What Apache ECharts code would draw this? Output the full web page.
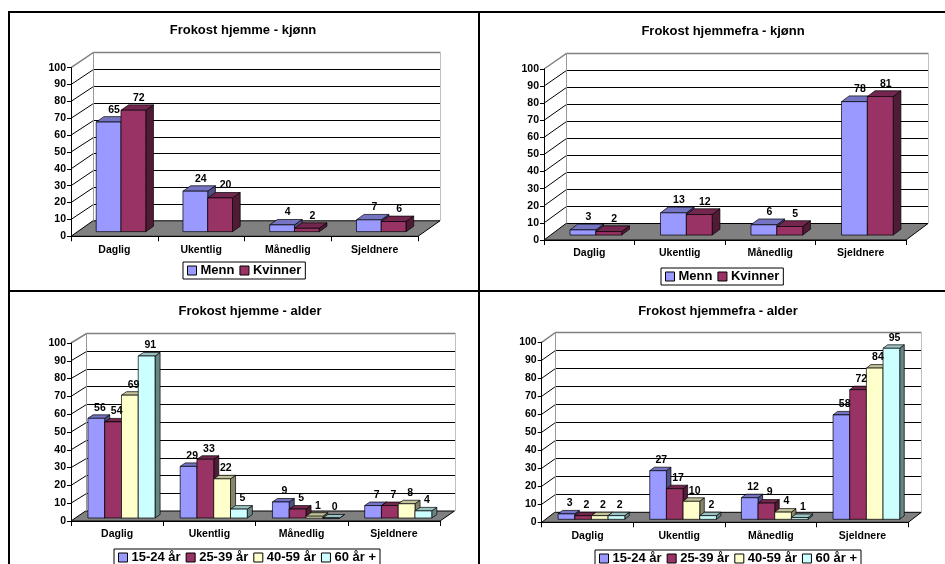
<!DOCTYPE html>
<html>
<head>
<meta charset="utf-8">
<script src="https://cdn.jsdelivr.net/npm/echarts@6/dist/echarts.min.js"></script>
<style>
  html, body { margin: 0; padding: 0; background: #fff; }
  #chart { width: 945px; height: 564px; }
</style>
</head>
<body>
<div id="chart"></div>
<script>
// ---- data ----
const categories = ['Daglig', 'Ukentlig', 'Månedlig', 'Sjeldnere'];
const valueTicks = [0, 10, 20, 30, 40, 50, 60, 70, 80, 90, 100];

const genderNames = ['Menn', 'Kvinner'];
const ageNames = ['15-24 år', '25-39 år', '40-59 år', '60 år +'];

const hjemmeMenn = [65, 24, 4, 7];
const hjemmeKvinner = [72, 20, 2, 6];

const hjemmefraMenn = [3, 13, 6, 78];
const hjemmefraKvinner = [2, 12, 5, 81];

const hjemme1524 = [56, 29, 9, 7];
const hjemme2539 = [54, 33, 5, 7];
const hjemme4059 = [69, 22, 1, 8];
const hjemme60 = [91, 5, 0, 4];

const hjemmefra1524 = [3, 27, 12, 58];
const hjemmefra2539 = [2, 17, 9, 72];
const hjemmefra4059 = [2, 10, 4, 84];
const hjemmefra60 = [2, 2, 1, 95];

// ---- styling / layout ----
const FONT = '"Liberation Sans", Arial, sans-serif';
const faceColors = ['#9999FF', '#993366', '#FFFFCC', '#CCFFFF'];
const DEPTH_FRONT = 0.3;   // bar front face, as fraction of floor depth
const DEPTH_BACK = 0.65;   // bar back face

const panels = [
  { title: 'Frokost hjemme - kjønn', names: genderNames, values: [hjemmeMenn, hjemmeKvinner],
    grid: { left: 71, top: 67.7, width: 347, height: 168.6 }, depth: [22, -15.5],
    titlePos: [243, 24], legendPos: [183, 262] },
  { title: 'Frokost hjemmefra - kjønn', names: genderNames, values: [hjemmefraMenn, hjemmefraKvinner],
    grid: { left: 544, top: 69, width: 362, height: 171 }, depth: [22, -16.5],
    titlePos: [723, 25], legendPos: [661, 268] },
  { title: 'Frokost hjemme - alder', names: ageNames, values: [hjemme1524, hjemme2539, hjemme4059, hjemme60],
    grid: { left: 71, top: 343, width: 369, height: 178 }, depth: [14.5, -10],
    titlePos: [250, 305], legendPos: [114, 549] },
  { title: 'Frokost hjemmefra - alder', names: ageNames, values: [hjemmefra1524, hjemmefra2539, hjemmefra4059, hjemmefra60],
    grid: { left: 541.7, top: 342.3, width: 366.6, height: 180 }, depth: [13, -10],
    titlePos: [718, 305], legendPos: [595, 550] }
];

function shade(hex, k) {
  const n = parseInt(hex.slice(1), 16);
  const r = Math.round(((n >> 16) & 255) * k);
  const g = Math.round(((n >> 8) & 255) * k);
  const b = Math.round((n & 255) * k);
  return 'rgb(' + r + ',' + g + ',' + b + ')';
}

// snap a horizontal line to the pixel grid so it stays crisp
const crisp = y => Math.round(y) + 0.5;

// Back wall, side wall, gridlines and floor of the 3D box
function wallRenderer(dx, dy) {
  return function (params, api) {
    const cs = params.coordSys;
    const x0 = cs.x, x1 = cs.x + cs.width;
    const yOf = v => api.coord([0, v])[1];
    const yTop = yOf(valueTicks[valueTicks.length - 1]);
    const yZero = yOf(0);
    const bx0 = Math.round(x0 + dx) + 0.5, bx1 = Math.round(x1 + dx) + 0.5;
    const children = [];
    valueTicks.slice(1, -1).forEach(v => {
      const y = yOf(v);
      const yb = crisp(y + dy);
      children.push({ type: 'polyline', shape: { points: [[x0, y], [bx0, yb], [bx1, yb]] },
        style: { stroke: '#000', lineWidth: 1, fill: null } });
    });
    children.push({ type: 'polygon',
      shape: { points: [[x0, yZero], [x1, yZero], [x1 + dx, yZero + dy], [x0 + dx, yZero + dy]] },
      style: { fill: '#808080', stroke: '#000', lineWidth: 1 } });
    const ybt = crisp(yTop + dy);
    children.push({ type: 'polyline',
      shape: { points: [[x0, yTop], [bx0, ybt], [bx1, ybt]] },
      style: { stroke: '#808080', lineWidth: 1.5, fill: null } });
    children.push({ type: 'line',
      shape: { x1: bx0, y1: ybt, x2: bx0, y2: yZero + dy },
      style: { stroke: '#9a9a9a', lineWidth: 1 } });
    children.push({ type: 'line',
      shape: { x1: bx1, y1: ybt, x2: bx1, y2: yZero + dy },
      style: { stroke: '#c0c0c0', lineWidth: 1 } });
    return { type: 'group', children: children };
  };
}

// One 3D column per data item: side face, top face, front face and value label
function barRenderer(slot, count, dx, dy, color) {
  const topColor = shade(color, 0.76);
  const sideColor = shade(color, 0.52);
  return function (params, api) {
    const idx = api.value(0), v = api.value(1);
    const top = api.coord([idx, v]);
    const base = api.coord([idx, 0]);
    const bandW = api.size([1, 0])[0];
    const w = bandW / (count + 1.5);
    const x = top[0] - count * w / 2 + slot * w;
    const fx = DEPTH_FRONT * dx, fy = DEPTH_FRONT * dy;
    const bx = DEPTH_BACK * dx, by = DEPTH_BACK * dy;
    const yT = top[1], yB = base[1];
    const edge = { stroke: '#000', lineWidth: 0.7 };
    return {
      type: 'group',
      children: [
        { type: 'polygon',
          shape: { points: [[x + w + fx, yT + fy], [x + w + fx, yB + fy], [x + w + bx, yB + by], [x + w + bx, yT + by]] },
          style: Object.assign({ fill: sideColor }, edge) },
        { type: 'polygon',
          shape: { points: [[x + fx, yT + fy], [x + w + fx, yT + fy], [x + w + bx, yT + by], [x + bx, yT + by]] },
          style: Object.assign({ fill: topColor }, edge) },
        { type: 'rect',
          shape: { x: x + fx, y: yT + fy, width: w, height: yB - yT },
          style: Object.assign({ fill: color }, edge) },
        { type: 'text', z2: 100,
          style: { text: String(v), x: x + w / 2 + 0.55 * dx, y: yT + by - 1.5,
            align: 'center', verticalAlign: 'bottom',
            font: 'bold 10.5px ' + FONT, fill: '#000' } }
      ]
    };
  };
}

const option = {
  backgroundColor: '#fff',
  animation: false,
  title: [], legend: [], grid: [], xAxis: [], yAxis: [], series: [],
  graphic: [
    { type: 'line', shape: { x1: 8, y1: 12, x2: 945, y2: 12 }, style: { stroke: '#000', lineWidth: 2 } },
    { type: 'line', shape: { x1: 9, y1: 11, x2: 9, y2: 564 }, style: { stroke: '#000', lineWidth: 2 } },
    { type: 'line', shape: { x1: 479, y1: 11, x2: 479, y2: 564 }, style: { stroke: '#000', lineWidth: 2 } },
    { type: 'line', shape: { x1: 8, y1: 291, x2: 945, y2: 291 }, style: { stroke: '#000', lineWidth: 2 } }
  ]
};

panels.forEach((p, gi) => {
  option.title.push({
    text: p.title, left: p.titlePos[0], top: p.titlePos[1], textAlign: 'center', padding: 0,
    textStyle: { fontSize: 13, fontWeight: 'bold', fontFamily: FONT, color: '#000' }
  });
  option.legend.push({
    data: p.names, left: p.legendPos[0], top: p.legendPos[1],
    orient: 'horizontal', icon: 'rect', itemWidth: 9, itemHeight: 9, itemGap: 5,
    padding: [2, 4], borderColor: '#000', borderWidth: 1, backgroundColor: '#fff',
    selectedMode: false,
    itemStyle: { borderColor: '#000', borderWidth: 1 },
    textStyle: { fontSize: 13, fontWeight: 'bold', fontFamily: FONT, color: '#000', padding: [0, 0, 0, -1] }
  });
  option.grid.push(Object.assign({ containLabel: false }, p.grid));
  option.xAxis.push({
    type: 'category', gridIndex: gi, data: categories, z: 10,
    axisLine: { show: true, lineStyle: { color: '#000', width: 1 } },
    axisTick: { show: true, length: 5, lineStyle: { color: '#000' } },
    axisLabel: { margin: 8, color: '#000', fontWeight: 'bold', fontSize: 10.5, fontFamily: FONT },
    splitLine: { show: false }
  });
  option.yAxis.push({
    type: 'value', gridIndex: gi, min: valueTicks[0], max: valueTicks[valueTicks.length - 1], interval: 10, z: 10,
    axisLine: { show: true, lineStyle: { color: '#000', width: 1 } },
    axisTick: { show: true, length: 4, lineStyle: { color: '#000' } },
    axisLabel: { margin: 5, color: '#000', fontWeight: 'bold', fontSize: 10.5, fontFamily: FONT },
    splitLine: { show: false }
  });
  option.series.push({
    type: 'custom', xAxisIndex: gi, yAxisIndex: gi, z: 1, silent: true,
    data: [[0, 0]], encode: { x: 0, y: 1 },
    renderItem: wallRenderer(p.depth[0], p.depth[1])
  });
  p.values.forEach((vals, si) => {
    option.series.push({
      type: 'custom', name: p.names[si], xAxisIndex: gi, yAxisIndex: gi, z: 2,
      itemStyle: { color: faceColors[si], borderColor: '#000', borderWidth: 1 },
      data: vals.map((v, i) => [i, v]), encode: { x: 0, y: 1 },
      renderItem: barRenderer(si, p.values.length, p.depth[0], p.depth[1], faceColors[si])
    });
  });
});

const chart = echarts.init(document.getElementById('chart'), null, { renderer: 'canvas' });
chart.setOption(option);
</script>
</body>
</html>
